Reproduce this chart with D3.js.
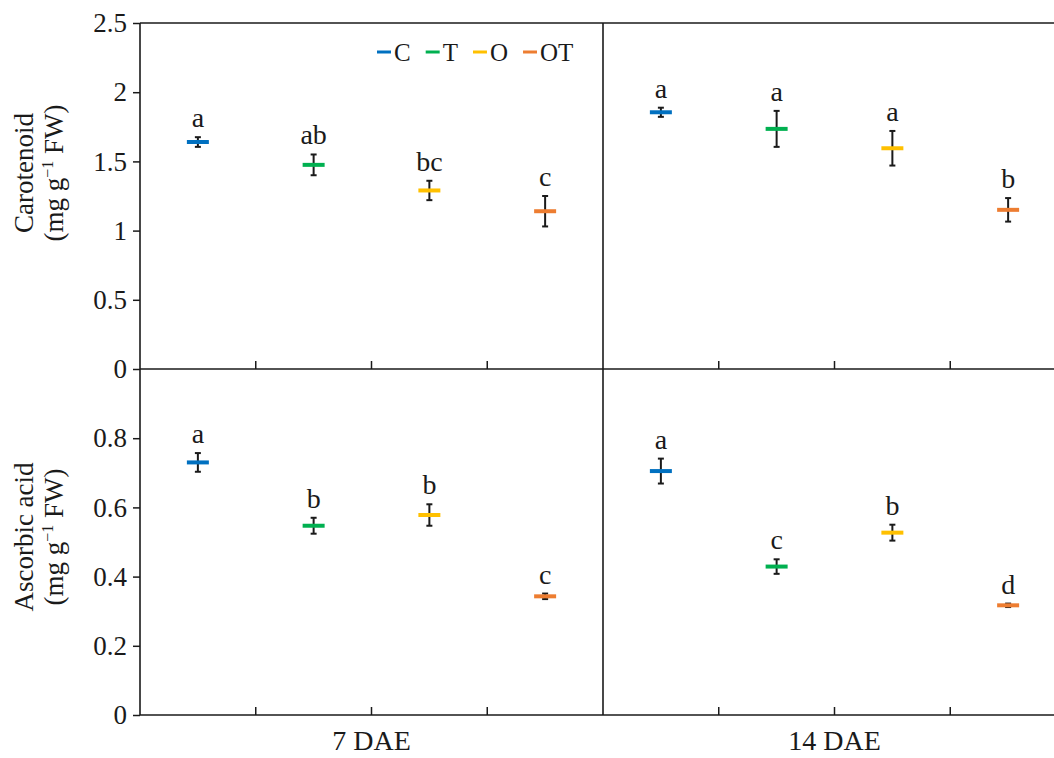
<!DOCTYPE html>
<html>
<head>
<meta charset="utf-8">
<script src="https://cdn.jsdelivr.net/npm/d3@7"></script>
<style>
  body { margin: 0; background: #fff; }
  svg { display: block; font-family: "Liberation Serif", "Times New Roman", serif; }
</style>
</head>
<body>
<svg id="chart"></svg>
<script>
const days = ['7 DAE', '14 DAE'];
const treatments = ['C', 'T', 'O', 'OT'];
const colors = ['#0070c0', '#00b050', '#ffc000', '#ed7d31'];

// carotenoid (mg g-1 FW), treatment order C, T, O, OT
const carMean7 = [1.64, 1.475, 1.29, 1.14];
const carErr7 = [0.035, 0.075, 0.07, 0.11];
const carSig7 = ['a', 'ab', 'bc', 'c'];
const carMean14 = [1.855, 1.735, 1.595, 1.15];
const carErr14 = [0.033, 0.13, 0.125, 0.085];
const carSig14 = ['a', 'a', 'a', 'b'];

// ascorbic acid (mg g-1 FW)
const ascMean7 = [0.73, 0.547, 0.578, 0.343];
const ascErr7 = [0.027, 0.023, 0.031, 0.008];
const ascSig7 = ['a', 'b', 'b', 'c'];
const ascMean14 = [0.705, 0.429, 0.527, 0.317];
const ascErr14 = [0.036, 0.021, 0.023, 0.005];
const ascSig14 = ['a', 'c', 'b', 'd'];

const carTicks = [0, 0.5, 1, 1.5, 2, 2.5];
const ascTicks = [0, 0.2, 0.4, 0.6, 0.8];

const width = 1054;
const height = 758;
const plotL = 140, plotR = 1066, plotT = 23, plotM = 369, plotB = 715;
const ink = '#1a1a1a';
const serif = '"Liberation Serif", "Times New Roman", serif';

const svg = d3.select('#chart')
    .attr('width', width)
    .attr('height', height)
    .attr('viewBox', [0, 0, width, height]);

const x0 = d3.scaleBand().domain(days).range([plotL, plotR]);
const x1 = d3.scaleBand().domain(treatments).range([0, x0.bandwidth()]);

const yCar = d3.scaleLinear().domain([0, 2.5]).range([plotM, plotT]);
const yAsc = d3.scaleLinear().domain([0, 1]).range([plotB, plotM]);

const rows = (means, errs, sigs, day) => treatments.map((t, i) => ({
    day, t, i, mean: means[i], err: errs[i], sig: sigs[i]
}));

const panels = [
    { y: yCar, ticks: carTicks, base: plotM, title: 'Carotenoid', titleY: 173,
      data: rows(carMean7, carErr7, carSig7, days[0]).concat(rows(carMean14, carErr14, carSig14, days[1])) },
    { y: yAsc, ticks: ascTicks, base: plotB, title: 'Ascorbic acid', titleY: 537,
      data: rows(ascMean7, ascErr7, ascSig7, days[0]).concat(rows(ascMean14, ascErr14, ascSig14, days[1])) }
];

const cx = d => x0(d.day) + x1(d.t) + x1.bandwidth() / 2;

panels.forEach(p => {
    // y axis
    const ax = svg.append('g')
        .attr('transform', `translate(${plotL},0)`)
        .call(d3.axisLeft(p.y).tickValues(p.ticks).tickSize(7).tickPadding(6).tickFormat(d => String(d)));
    ax.select('.domain').remove();
    ax.selectAll('line').attr('stroke', ink).attr('stroke-width', 1.5);
    ax.selectAll('text').attr('fill', ink).style('font-size', '27px').style('font-family', serif);

    // inward x ticks between treatments
    days.forEach(day => {
        treatments.slice(1).forEach(t => {
            svg.append('line')
                .attr('x1', x0(day) + x1(t)).attr('x2', x0(day) + x1(t))
                .attr('y1', p.base).attr('y2', p.base - 8)
                .attr('stroke', ink).attr('stroke-width', 1.5);
        });
    });

    // axis title, two lines
    const tt = svg.append('text')
        .attr('transform', `translate(33,${p.titleY}) rotate(-90)`)
        .attr('text-anchor', 'middle')
        .style('font-size', '27px')
        .attr('fill', ink);
    tt.append('tspan').attr('x', 0).attr('dy', 0).text(p.title);
    const t2 = tt.append('tspan').attr('x', 0).attr('dy', 30);
    t2.append('tspan').text('(mg g');
    t2.append('tspan').attr('dy', -10).style('font-size', '16px').text('\u22121');
    t2.append('tspan').attr('dy', 10).text(' FW)');

    // error bars
    const eb = svg.append('g').selectAll('g').data(p.data).enter().append('g');
    eb.append('line')
        .attr('x1', cx).attr('x2', cx)
        .attr('y1', d => p.y(d.mean - d.err)).attr('y2', d => p.y(d.mean + d.err))
        .attr('stroke', ink).attr('stroke-width', 2);
    [1, -1].forEach(s => {
        eb.append('line')
            .attr('x1', d => cx(d) - 3).attr('x2', d => cx(d) + 3)
            .attr('y1', d => p.y(d.mean + s * d.err)).attr('y2', d => p.y(d.mean + s * d.err))
            .attr('stroke', ink).attr('stroke-width', 2);
    });

    // mean markers
    svg.append('g').selectAll('line').data(p.data).enter().append('line')
        .attr('x1', d => cx(d) - 11).attr('x2', d => cx(d) + 11)
        .attr('y1', d => p.y(d.mean)).attr('y2', d => p.y(d.mean))
        .attr('stroke', d => colors[d.i]).attr('stroke-width', 4);

    // significance letters
    svg.append('g').selectAll('text').data(p.data).enter().append('text')
        .attr('x', cx)
        .attr('y', d => p.y(d.mean + d.err) - 10)
        .attr('text-anchor', 'middle')
        .style('font-size', '28px')
        .attr('fill', ink)
        .text(d => d.sig);
});

// frame
const frame = [
    [plotL, plotT, plotL, plotB],
    [plotL, plotT, plotR, plotT],
    [plotL, plotM, plotR, plotM],
    [plotL, plotB, plotR, plotB],
    [x0(days[1]), plotT, x0(days[1]), plotB],
    [plotR, plotT, plotR, plotB]
];
svg.append('g').selectAll('line').data(frame).enter().append('line')
    .attr('x1', d => d[0]).attr('y1', d => d[1])
    .attr('x2', d => d[2]).attr('y2', d => d[3])
    .attr('stroke', ink).attr('stroke-width', 1.6);

// category labels
svg.append('g').selectAll('text').data(days).enter().append('text')
    .attr('x', d => x0(d) + x0.bandwidth() / 2)
    .attr('y', 750)
    .attr('text-anchor', 'middle')
    .style('font-size', '28px')
    .attr('fill', ink)
    .text(d => d);

// legend
let lx = 377;
const legend = svg.append('g');
treatments.forEach((t, i) => {
    legend.append('line')
        .attr('x1', lx).attr('x2', lx + 14)
        .attr('y1', 52).attr('y2', 52)
        .attr('stroke', colors[i]).attr('stroke-width', 3);
    const tx = legend.append('text')
        .attr('x', lx + 17).attr('y', 61)
        .style('font-size', '25px')
        .attr('fill', ink)
        .text(t);
    lx += 17 + tx.node().getComputedTextLength() + 15;
});
</script>
</body>
</html>
